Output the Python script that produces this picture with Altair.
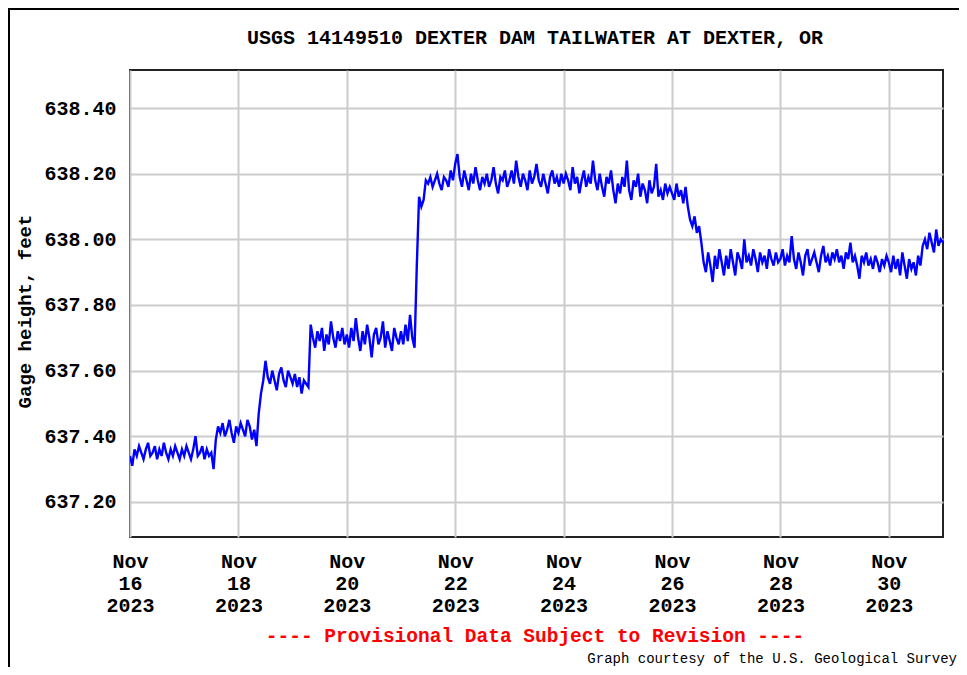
import altair as alt
import pandas as pd

# ---------------- text ----------------
station_title = "USGS 14149510 DEXTER DAM TAILWATER AT DEXTER, OR"
y_title = "Gage height, feet"
provisional_note = "---- Provisional Data Subject to Revision ----"
credit_note = "Graph courtesy of the U.S. Geological Survey"

# ---------------- axes ----------------
start_date = "2023-11-16"
end_date = "2023-12-01"
x_tick_dates = ["2023-11-16", "2023-11-18", "2023-11-20", "2023-11-22",
                "2023-11-24", "2023-11-26", "2023-11-28", "2023-11-30"]
y_tick_values = [637.2, 637.4, 637.6, 637.8, 638.0, 638.2, 638.4]
y_domain = [637.093, 638.516]

# ---------------- hourly gage height readings (ft) ----------------
nov16 = [637.34, 637.31, 637.36, 637.34, 637.37, 637.35, 637.33, 637.36, 637.38, 637.34, 637.35, 637.37,
         637.33, 637.36, 637.34, 637.38, 637.35, 637.33, 637.36, 637.34, 637.37, 637.35, 637.33, 637.36]
nov17 = [637.34, 637.37, 637.35, 637.33, 637.36, 637.40, 637.34, 637.35, 637.37, 637.33, 637.36, 637.34,
         637.35, 637.30, 637.39, 637.43, 637.41, 637.44, 637.40, 637.42, 637.45, 637.41, 637.38, 637.43]
nov18 = [637.41, 637.44, 637.42, 637.40, 637.45, 637.43, 637.39, 637.42, 637.37, 637.47, 637.53, 637.57,
         637.63, 637.58, 637.56, 637.60, 637.57, 637.54, 637.59, 637.61, 637.57, 637.55, 637.60, 637.58]
nov19 = [637.56, 637.59, 637.55, 637.58, 637.53, 637.57, 637.56, 637.55, 637.74, 637.70, 637.67, 637.72,
         637.69, 637.73, 637.66, 637.71, 637.68, 637.75, 637.70, 637.67, 637.72, 637.69, 637.73, 637.68]
nov20 = [637.71, 637.67, 637.73, 637.69, 637.76, 637.70, 637.66, 637.72, 637.68, 637.74, 637.70, 637.64,
         637.71, 637.73, 637.68, 637.70, 637.75, 637.67, 637.72, 637.69, 637.66, 637.73, 637.70, 637.68]
nov21 = [637.72, 637.68, 637.74, 637.69, 637.77, 637.70, 637.67, 637.92, 638.13, 638.10, 638.12, 638.18,
         638.17, 638.19, 638.16, 638.18, 638.20, 638.17, 638.15, 638.19, 638.18, 638.16, 638.21, 638.18]
nov22 = [638.23, 638.26, 638.19, 638.16, 638.21, 638.18, 638.15, 638.20, 638.17, 638.22, 638.18, 638.15,
         638.19, 638.17, 638.20, 638.16, 638.18, 638.22, 638.17, 638.14, 638.19, 638.18, 638.21, 638.16]
nov23 = [638.18, 638.21, 638.17, 638.24, 638.19, 638.16, 638.20, 638.18, 638.15, 638.21, 638.17, 638.19,
         638.23, 638.18, 638.16, 638.20, 638.17, 638.14, 638.19, 638.21, 638.17, 638.19, 638.16, 638.20]
nov24 = [638.17, 638.20, 638.18, 638.15, 638.22, 638.17, 638.19, 638.14, 638.18, 638.21, 638.16, 638.19,
         638.17, 638.24, 638.18, 638.15, 638.20, 638.16, 638.13, 638.19, 638.17, 638.21, 638.15, 638.11]
nov25 = [638.17, 638.14, 638.19, 638.16, 638.24, 638.15, 638.12, 638.18, 638.16, 638.20, 638.13, 638.17,
         638.15, 638.11, 638.18, 638.14, 638.16, 638.23, 638.13, 638.15, 638.12, 638.17, 638.14, 638.16]
nov26 = [638.14, 638.12, 638.17, 638.13, 638.15, 638.11, 638.16, 638.10, 638.06, 638.04, 638.07, 638.02,
         638.04, 637.99, 637.93, 637.90, 637.96, 637.92, 637.87, 637.95, 637.91, 637.97, 637.93, 637.89]
nov27 = [637.95, 637.91, 637.97, 637.93, 637.89, 637.96, 637.94, 637.91, 638.00, 637.93, 637.95, 637.92,
         637.97, 637.94, 637.90, 637.96, 637.93, 637.95, 637.91, 637.97, 637.94, 637.92, 637.96, 637.93]
nov28 = [637.94, 637.97, 637.92, 637.95, 637.93, 638.01, 637.94, 637.91, 637.96, 637.93, 637.89, 637.95,
         637.97, 637.92, 637.94, 637.96, 637.93, 637.90, 637.95, 637.98, 637.93, 637.95, 637.92, 637.96]
nov29 = [637.94, 637.97, 637.93, 637.95, 637.91, 637.96, 637.94, 637.99, 637.93, 637.95, 637.92, 637.88,
         637.95, 637.93, 637.96, 637.92, 637.94, 637.91, 637.95, 637.93, 637.90, 637.94, 637.92, 637.95]
nov30 = [637.93, 637.90, 637.95, 637.91, 637.94, 637.89, 637.96, 637.92, 637.88, 637.94, 637.91, 637.93,
         637.89, 637.95, 637.92, 637.98, 638.00, 637.97, 638.02, 637.99, 637.96, 638.03, 637.98, 638.00]
dec01 = [637.99]

days = [nov16, nov17, nov18, nov19, nov20, nov21, nov22, nov23,
        nov24, nov25, nov26, nov27, nov28, nov29, nov30, dec01]
gage = [v for d in days for v in d]


def to_ms(ts):
    return int(ts.timestamp() * 1000)


t0 = pd.Timestamp(start_date, tz="UTC")
times = [to_ms(t0 + pd.Timedelta(hours=i)) for i in range(len(gage))]
df = pd.DataFrame({"t": times, "gage": gage})

x_domain = [to_ms(pd.Timestamp(start_date, tz="UTC")), to_ms(pd.Timestamp(end_date, tz="UTC"))]
x_ticks = [to_ms(pd.Timestamp(d, tz="UTC")) for d in x_tick_dates]

FONT = "Liberation Mono"
GRID = "#cccccc"

line = alt.Chart(df).mark_line(color="#0000ff", strokeWidth=2.4, clip=True).encode(
    x=alt.X(
        "t:T",
        scale=alt.Scale(type="utc", domain=x_domain, nice=False),
        axis=alt.Axis(
            values=x_ticks,
            labelExpr="[utcFormat(datum.value, '%b'), utcFormat(datum.value, '%d'), utcFormat(datum.value, '%Y')]",
            title=None, grid=True, gridColor=GRID, gridWidth=2, ticks=False, domain=False,
            labelFont=FONT, labelFontSize=20, labelFontWeight="bold", labelColor="black",
            labelPadding=14, labelLineHeight=22, labelBaseline="top", labelAlign="center",
            labelFlush=False, labelOverlap=False,
        ),
    ),
    y=alt.Y(
        "gage:Q",
        scale=alt.Scale(domain=y_domain, nice=False, zero=False),
        axis=alt.Axis(
            values=y_tick_values, format=".2f", title=y_title,
            grid=True, gridColor=GRID, gridWidth=2, ticks=False, domain=False,
            labelFont=FONT, labelFontSize=20, labelFontWeight="bold", labelColor="black",
            labelPadding=14, labelBaseline="middle",
            titleFont=FONT, titleFontSize=19, titleFontWeight="bold", titleColor="black",
            titleX=-106, titleY=241, titleAlign="center", titleBaseline="middle",
        ),
    ),
)

title_df = pd.DataFrame({"label": [station_title]})
title = alt.Chart(title_df).mark_text(
    font=FONT, fontSize=20, fontWeight="bold", color="black", align="center", baseline="middle"
).encode(text="label:N", x=alt.value(405), y=alt.value(-32))

note_df = pd.DataFrame({"label": [provisional_note]})
note = alt.Chart(note_df).mark_text(
    font=FONT, fontSize=19.5, fontWeight="bold", color="#ff0000", align="center", baseline="middle"
).encode(text="label:N", x=alt.value(405), y=alt.value(566))

credit_df = pd.DataFrame({"label": [credit_note]})
credit = alt.Chart(credit_df).mark_text(
    font=FONT, fontSize=14, color="black", align="right", baseline="middle"
).encode(text="label:N", x=alt.value(827), y=alt.value(589))

frame_df = pd.DataFrame({"k": [0]})
left_border = alt.Chart(frame_df).mark_rule(color="black", strokeWidth=2).encode(
    x=alt.value(-121), y=alt.value(-62), y2=alt.value(597)
)
top_border = alt.Chart(frame_df).mark_rule(color="black", strokeWidth=2).encode(
    x=alt.value(-122), x2=alt.value(829), y=alt.value(-61)
)

chart = alt.layer(line, title, note, credit, left_border, top_border).properties(
    width=813,
    height=467,
    autosize="none",
    padding={"left": 122, "top": 62, "right": 16, "bottom": 130},
    background="white",
).configure_view(stroke="#222222", strokeWidth=2)

chart.save("out.html", embed_options={"renderer": "svg", "actions": False})
